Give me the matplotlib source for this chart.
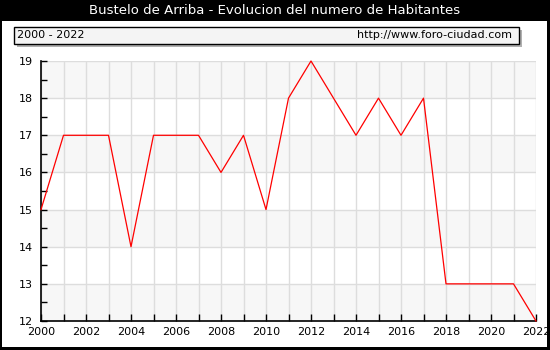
import matplotlib
matplotlib.use("Agg")
import matplotlib.pyplot as plt
from matplotlib.patches import Rectangle
from matplotlib.ticker import MultipleLocator

years = list(range(2000, 2023))
population = [15, 17, 17, 17, 14, 17, 17, 17, 16, 17, 15, 18, 19, 18, 17, 18, 17, 18, 13, 13, 13, 13, 12]
title = "Bustelo de Arriba - Evolucion del numero de Habitantes"
range_label = "2000 - 2022"
url_label = "http://www.foro-ciudad.com"

W, H = 550, 350
fig = plt.figure(figsize=(W / 100, H / 100), dpi=100)
fig.patch.set_facecolor("black")

def rect(x0, y0, x1, y1, **kw):
    # pixel coords (top-left origin) -> figure rectangle
    return Rectangle((x0 / W, 1 - y1 / H), (x1 - x0) / W, (y1 - y0) / H,
                     transform=fig.transFigure, **kw)

fig.patches.append(rect(2, 21, 547, 347, facecolor="white", edgecolor="none", zorder=0))
fig.text(0.5, 1 - 11 / H, title, color="white", ha="center", va="center", fontsize=9.5, family="DejaVu Sans")

fig.patches.append(rect(17, 30, 522, 47, facecolor="#b0b0b0", edgecolor="none", zorder=1))
fig.patches.append(rect(14, 27, 519, 44, facecolor="#f4f4f4", edgecolor="black", linewidth=1, zorder=2))
fig.text(17 / W, 1 - 35.5 / H, range_label, ha="left", va="center", fontsize=8, zorder=3)
fig.text(512 / W, 1 - 35.5 / H, url_label, ha="right", va="center", fontsize=8, zorder=3)

ax = fig.add_axes([41 / W, 1 - 321 / H, (536 - 41) / W, (321 - 61) / H])
ax.set_zorder(5)
ax.set_xlim(2000, 2022)
ax.set_ylim(12, 19)
ax.set_facecolor("white")
for y0 in range(12, 19):
    if (y0 - 12) % 2 == 0:
        ax.axhspan(y0, y0 + 1, facecolor="#f7f7f7", edgecolor="none", zorder=0)
ax.set_xticks(range(2000, 2023))
ax.set_xticklabels([str(y) if y % 2 == 0 else "" for y in range(2000, 2023)])
ax.set_yticks(range(12, 20))
ax.yaxis.set_minor_locator(MultipleLocator(0.5))
ax.grid(True, which="major", color="#dddddd", linewidth=1, zorder=1)
ax.set_axisbelow(True)
ax.plot(years, population, color="red", linewidth=0.9, zorder=3, clip_on=False)
for s in ["top", "right"]:
    ax.spines[s].set_visible(False)
for s in ["left", "bottom"]:
    ax.spines[s].set_linewidth(1.2)
ax.tick_params(axis="x", direction="in", length=5, width=1, labelsize=8, pad=4)
ax.tick_params(axis="y", which="major", direction="in", length=4, width=1, labelsize=8, pad=6)
ax.tick_params(axis="y", which="minor", direction="in", length=4, width=1)

fig.savefig("out.png", dpi=100, facecolor=fig.get_facecolor())
